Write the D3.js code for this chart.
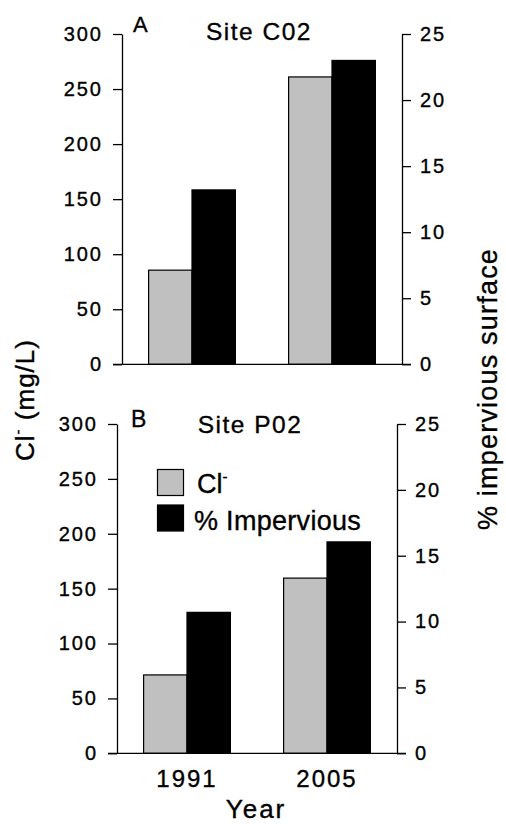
<!DOCTYPE html>
<html>
<head>
<meta charset="utf-8">
<script src="https://cdn.jsdelivr.net/npm/d3@7"></script>
<style>
	body { margin: 0; background: #fff; }
	svg { display: block; font-family: "Liberation Sans", Arial, sans-serif; }
	svg text { fill: #000; stroke: #000; stroke-width: 0.35px; }
	.tick text { font-size: 20px; letter-spacing: 2px; }
</style>
</head>
<body>
<div id="container"></div>
<script>
// data
var years = ['1991', '2005'];
var series = ['Cl', 'Imp'];
var siteA_cl = [85.5, 261];
var siteA_imp = [13.2, 23];
var siteB_cl = [71.4, 159.6];
var siteB_imp = [10.7, 16.05];
var clTicks = [0, 50, 100, 150, 200, 250, 300];
var impTicks = [0, 5, 10, 15, 20, 25];
var fillCol = { Cl: '#c0c0c0', Imp: '#000000' };

var W = 506, H = 824;

var svg = d3.select('#container').append('svg')
	.attr('width', W)
	.attr('height', H);

function drawPanel(p){
	var x = d3.scaleBand()
		.domain(years)
		.range([p.left, p.right])
		.paddingInner(0.38)
		.paddingOuter(0.19);

	var xs = d3.scaleBand()
		.domain(series)
		.range([0, x.bandwidth()]);

	var yL = d3.scaleLinear().domain([0, 300]).range([p.bottom, p.top]);
	var yR = d3.scaleLinear().domain([0, 25]).range([p.bottom, p.top]);

	var g = svg.append('g');

	var rows = years.map((yr, i) => {
		return [{year: yr, s: 'Cl', v: p.cl[i]}, {year: yr, s: 'Imp', v: p.imp[i]}];
	}).flat();

	g.selectAll('.bar')
		.data(rows)
		.enter()
		.append('rect')
		.attr('class', 'bar')
		.attr('x', d => x(d.year) + xs(d.s))
		.attr('width', xs.bandwidth())
		.attr('y', d => d.s == 'Cl' ? yL(d.v) : yR(d.v))
		.attr('height', d => p.bottom - (d.s == 'Cl' ? yL(d.v) : yR(d.v)))
		.attr('fill', d => fillCol[d.s])
		.attr('stroke', '#000')
		.attr('stroke-width', 1.2);

	var axL = g.append('g')
		.attr('transform', 'translate(' + p.left + ',0)')
		.call(d3.axisLeft(yL).tickValues(clTicks).tickSize(9).tickSizeOuter(0).tickPadding(10));

	var axR = g.append('g')
		.attr('transform', 'translate(' + p.right + ',0)')
		.call(d3.axisRight(yR).tickValues(impTicks).tickSize(9).tickSizeOuter(0).tickPadding(9));

	[axL, axR].forEach(a => {
		a.selectAll('path, line').attr('stroke', '#000').attr('stroke-width', 1.3);
		a.selectAll('text').attr('font-family', null).attr('font-size', null);
	});

	// zero line running across the panel
	g.append('line')
		.attr('x1', p.left - 9)
		.attr('x2', p.right + 9)
		.attr('y1', yL(0))
		.attr('y2', yL(0))
		.attr('stroke', '#000')
		.attr('stroke-width', 1.3);

	g.append('text')
		.attr('x', p.letterX).attr('y', p.letterY)
		.style('font-size', p.letterSize + 'px')
		.text(p.letter);

	g.append('text')
		.attr('x', p.titleX).attr('y', p.titleY)
		.attr('text-anchor', 'middle')
		.style('font-size', '24.5px')
		.style('letter-spacing', '1.5px')
		.text(p.title);

	if (p.xlabels){
		var axB = g.append('g')
			.attr('transform', 'translate(0,' + p.bottom + ')')
			.call(d3.axisBottom(x).tickSize(0).tickPadding(17));
		axB.select('.domain').remove();
		axB.selectAll('text')
			.attr('font-family', null).attr('font-size', null)
			.style('font-size', '24px')
			.style('letter-spacing', '2px');
	}
	return {x: x, yL: yL};
}

drawPanel({
	left: 122, right: 402, top: 34, bottom: 364.3,
	cl: siteA_cl, imp: siteA_imp,
	letter: 'A', letterX: 133, letterY: 32, letterSize: 22,
	title: 'Site C02', titleX: 259, titleY: 40,
	xlabels: false
});

drawPanel({
	left: 117, right: 397, top: 424, bottom: 753.3,
	cl: siteB_cl, imp: siteB_imp,
	letter: 'B', letterX: 131, letterY: 427, letterSize: 23,
	title: 'Site P02', titleX: 250, titleY: 433,
	xlabels: true
});

// legend
var legend = svg.append('g');
var legItems = [{s: 'Cl', y: 469.5, ty: 493}, {s: 'Imp', y: 505, ty: 530}];

legend.selectAll('rect')
	.data(legItems)
	.enter()
	.append('rect')
	.attr('x', 157.5)
	.attr('y', d => d.y)
	.attr('width', 26)
	.attr('height', 26)
	.attr('fill', d => fillCol[d.s])
	.attr('stroke', '#000')
	.attr('stroke-width', 1.2);

var clLeg = legend.append('text')
	.attr('x', 197).attr('y', 493)
	.style('font-size', '27px');
clLeg.append('tspan').text('Cl');
clLeg.append('tspan').attr('dy', -11).style('font-size', '15px').text('-');

legend.append('text')
	.attr('x', 194).attr('y', 530)
	.style('font-size', '27px')
	.style('letter-spacing', '0.3px')
	.text('% Impervious');

// axis titles
var yLab = svg.append('text')
	.attr('transform', 'translate(34,400) rotate(-90)')
	.attr('text-anchor', 'middle')
	.style('font-size', '26px')
	.style('letter-spacing', '1px');
yLab.append('tspan').text('Cl');
yLab.append('tspan').attr('dy', -11).style('font-size', '15px').text('-');
yLab.append('tspan').attr('dy', 11).text(' (mg/L)');

svg.append('text')
	.attr('transform', 'translate(496.5,389) rotate(-90)')
	.attr('text-anchor', 'middle')
	.style('font-size', '27px')
	.style('letter-spacing', '1.2px')
	.text('% impervious surface');

svg.append('text')
	.attr('x', 256).attr('y', 818)
	.attr('text-anchor', 'middle')
	.style('font-size', '26px')
	.style('letter-spacing', '2px')
	.text('Year');
</script>
</body>
</html>
